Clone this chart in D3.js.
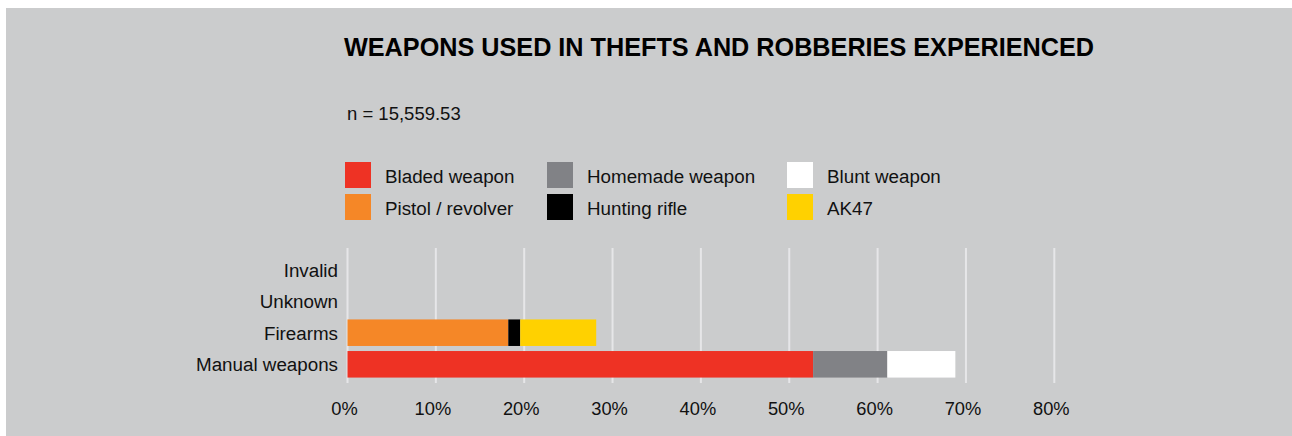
<!DOCTYPE html>
<html>
<head>
<meta charset="utf-8">
<script src="https://cdn.jsdelivr.net/npm/d3@7"></script>
<style>
  html, body { margin: 0; padding: 0; background: #ffffff; }
  svg { display: block; font-family: "Liberation Sans", Arial, Helvetica, sans-serif; }
</style>
</head>
<body>
<svg id="chart" width="1292" height="436"></svg>
<script>
// Categories (top to bottom) and weapon types
const categories = ["Invalid", "Unknown", "Firearms", "Manual weapons"];
const weaponTypes = ["Bladed weapon", "Homemade weapon", "Blunt weapon", "Pistol / revolver", "Hunting rifle", "AK47"];
const weaponColors = ["#ee3224", "#818286", "#ffffff", "#f58727", "#000000", "#ffd100"];

// Share of incidents (%) per category for each weapon type
const bladed   = [0, 0, 0, 52.7];
const homemade = [0, 0, 0, 8.4];
const blunt    = [0, 0, 0, 7.7];
const pistol   = [0, 0, 18.2, 0];
const rifle    = [0, 0, 1.35, 0];
const ak47     = [0, 0, 8.6, 0];

const xTicks = [0, 10, 20, 30, 40, 50, 60, 70, 80];
const xTickLabels = ["0%", "10%", "20%", "30%", "40%", "50%", "60%", "70%", "80%"];

const titleText = "WEAPONS USED IN THEFTS AND ROBBERIES EXPERIENCED";
const sampleText = "n = 15,559.53";

const seriesValues = [bladed, homemade, blunt, pistol, rifle, ak47];
const rows = categories.map((c, i) => {
  const r = { category: c };
  weaponTypes.forEach((w, j) => { r[w] = seriesValues[j][i]; });
  return r;
});

const svg = d3.select("#chart");

// Grey panel
svg.append("rect")
  .attr("x", 6).attr("y", 8)
  .attr("width", 1286).attr("height", 428)
  .attr("fill", "#cbcccd");

// Title and sample size
svg.append("text")
  .attr("x", 344).attr("y", 56)
  .attr("font-size", 25).attr("font-weight", "bold")
  .attr("fill", "#000")
  .attr("textLength", 750).attr("lengthAdjust", "spacingAndGlyphs")
  .text(titleText);

svg.append("text")
  .attr("x", 347).attr("y", 120)
  .attr("font-size", 18.5).attr("fill", "#111")
  .text(sampleText);

// Legend: three columns, two rows
const legendCols = [345, 547, 787];
const legendRows = [162, 194];
const legendOrder = [
  ["Bladed weapon", 0, 0], ["Homemade weapon", 1, 0], ["Blunt weapon", 2, 0],
  ["Pistol / revolver", 0, 1], ["Hunting rifle", 1, 1], ["AK47", 2, 1]
];
const legend = svg.append("g");
legendOrder.forEach(([name, col, row]) => {
  const g = legend.append("g")
    .attr("transform", `translate(${legendCols[col]},${legendRows[row]})`);
  g.append("rect")
    .attr("width", 26).attr("height", 26)
    .attr("fill", weaponColors[weaponTypes.indexOf(name)]);
  g.append("text")
    .attr("x", 40).attr("y", 21)
    .attr("font-size", 18.8).attr("fill", "#111")
    .text(name);
});

// Scales
const x = d3.scaleLinear().domain([0, 80]).range([347.5, 1054.3]);
const y = d3.scaleBand().domain(categories).range([253.7, 380.1]).paddingInner(0.16).paddingOuter(0.08);

// Gridlines
svg.append("g")
  .selectAll("line")
  .data(xTicks)
  .join("line")
  .attr("x1", d => x(d)).attr("x2", d => x(d))
  .attr("y1", 248).attr("y2", 383)
  .attr("stroke", "#e6e6e8").attr("stroke-width", 2);

// Stacked bars
const stack = d3.stack().keys(weaponTypes);
const stacked = stack(rows);
svg.append("g")
  .selectAll("g")
  .data(stacked)
  .join("g")
  .attr("fill", (d, i) => weaponColors[i])
  .selectAll("rect")
  .data(d => d.filter(p => p[1] - p[0] > 0))
  .join("rect")
  .attr("x", d => x(d[0]))
  .attr("y", d => y(d.data.category))
  .attr("width", d => x(d[1]) - x(d[0]))
  .attr("height", y.bandwidth());

// Y axis labels
const yAxis = d3.axisLeft(y).tickSize(0).tickPadding(0);
const yg = svg.append("g").attr("transform", "translate(338,0)").call(yAxis);
yg.select(".domain").remove();
yg.selectAll("text")
  .attr("font-size", 18.8).attr("fill", "#111")
  .attr("font-family", null)
  .attr("dy", "0.38em");

// X axis labels
const xAxis = d3.axisBottom(x).tickValues(xTicks)
  .tickFormat((d, i) => xTickLabels[i]).tickSize(0).tickPadding(0);
const xg = svg.append("g").attr("transform", "translate(-3.5,415)").call(xAxis);
xg.select(".domain").remove();
xg.selectAll("text")
  .attr("font-size", 18.3).attr("fill", "#111")
  .attr("font-family", null)
  .attr("dy", 0);
</script>
</body>
</html>
